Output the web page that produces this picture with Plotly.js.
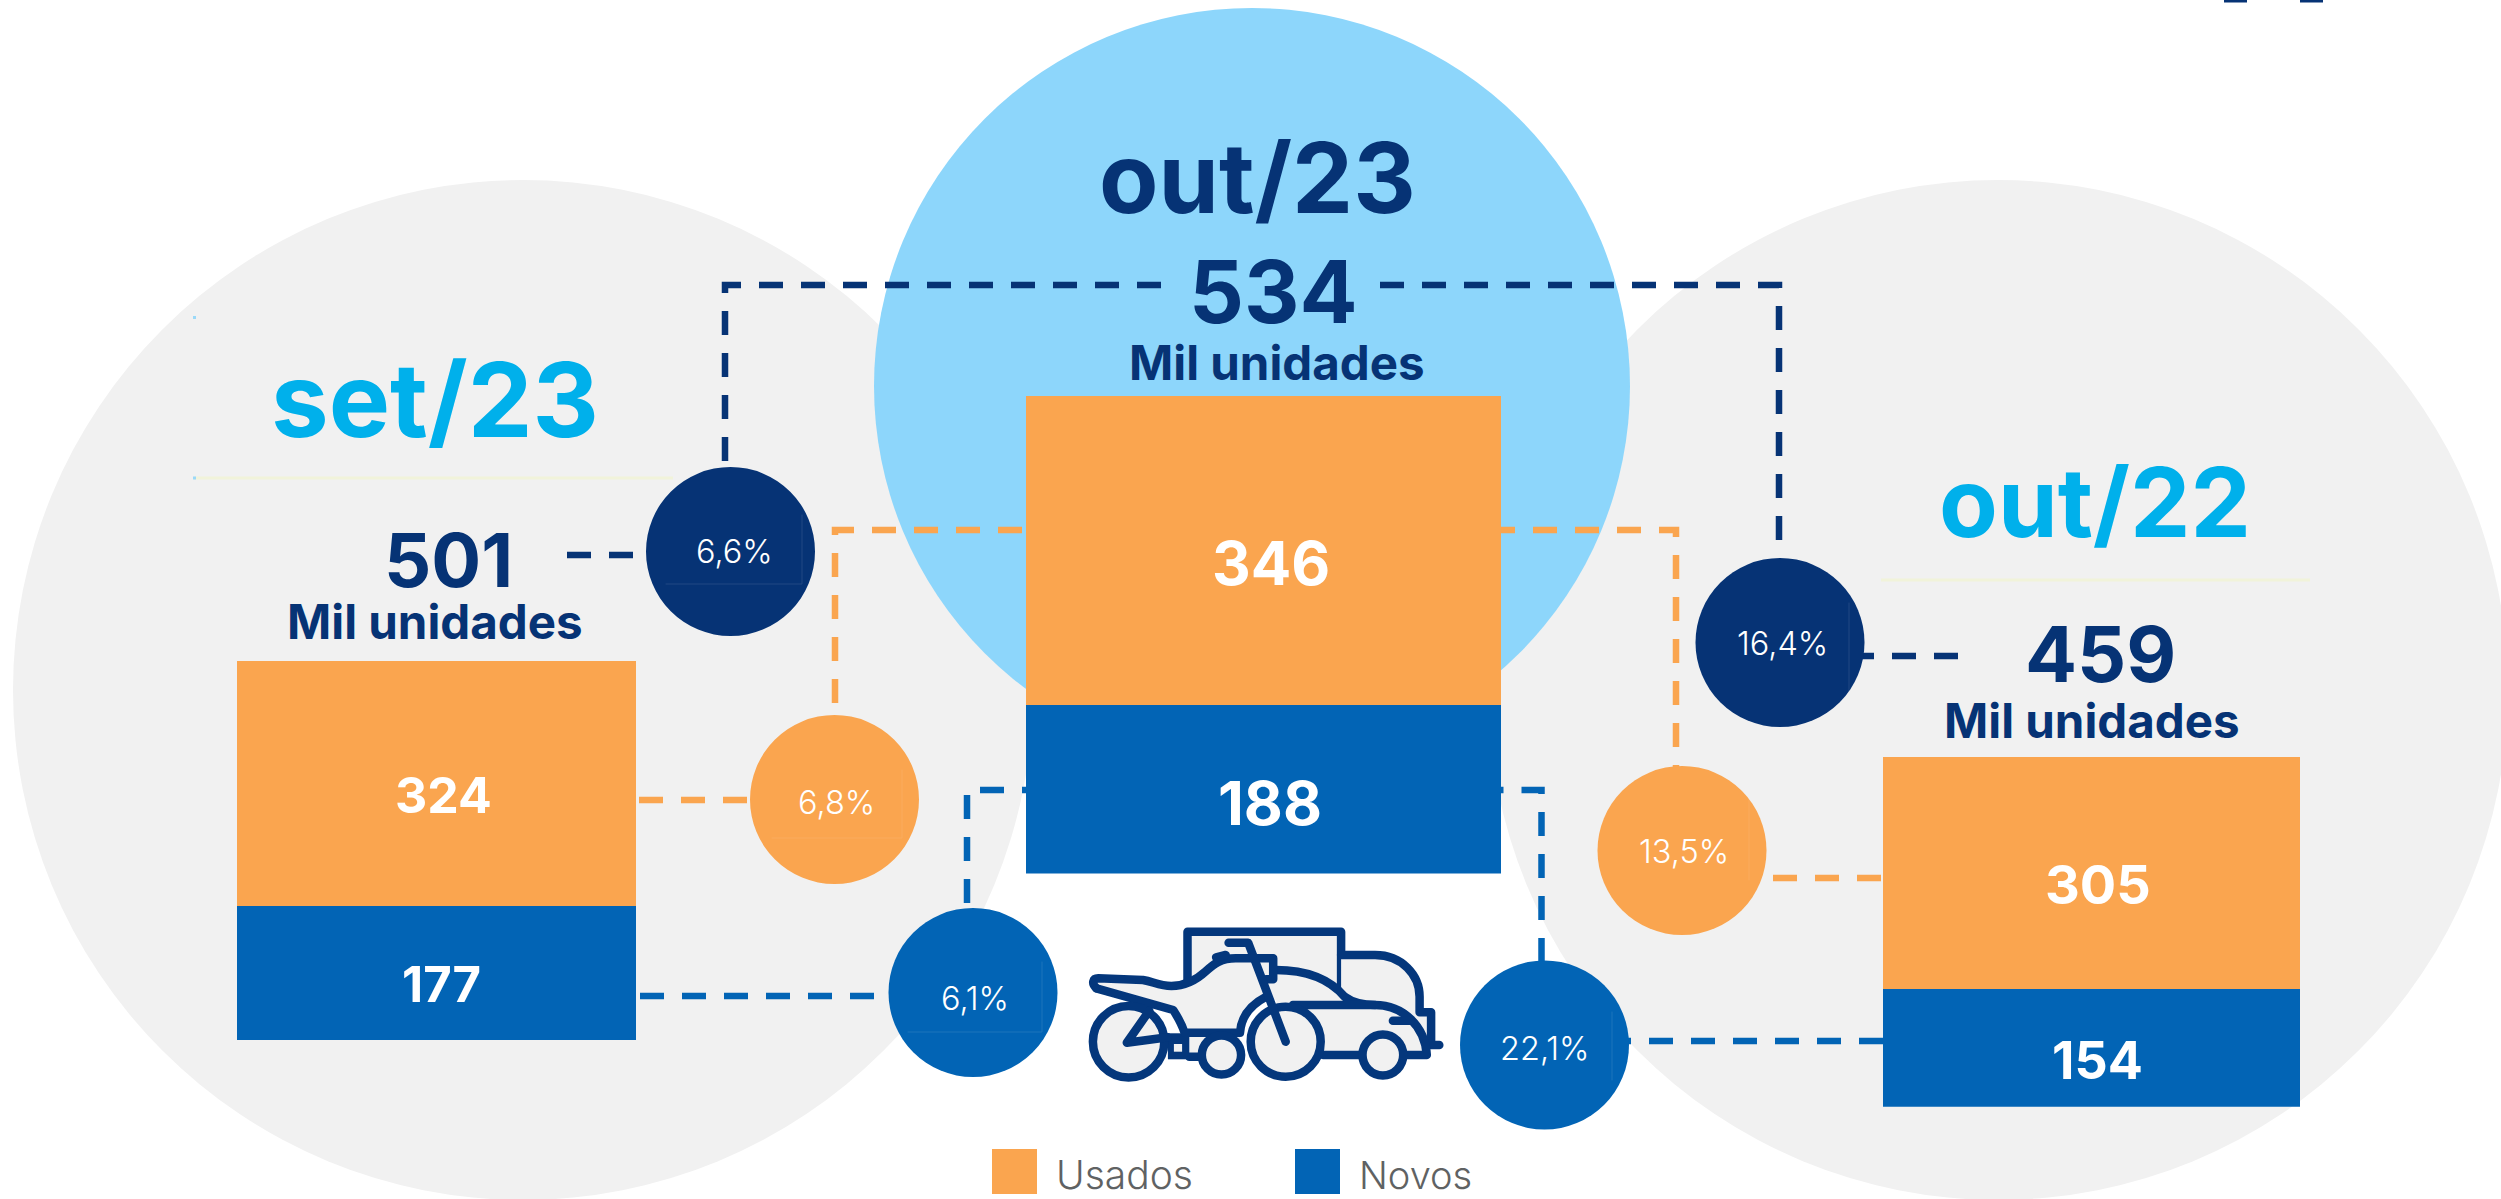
<!DOCTYPE html>
<html>
<head>
<meta charset="utf-8">
<script src="https://cdn.plot.ly/plotly-3.0.1.min.js"></script>
<style>
html,body{margin:0;padding:0;background:#fff;overflow:hidden}
#chart{width:2501px;height:1199px}
.shapelayer path:not([style*="dasharray"]){stroke-linejoin:round;stroke-linecap:round}
</style>
</head>
<body>
<div id="chart"></div>
<script>
const periods = ["set/23", "out/23", "out/22"];
const usados = [324, 346, 305];
const novos = [177, 188, 154];
const totais = [501, 534, 459];
const unidade = "Mil unidades";
const variacaoTotal = ["6,6%", "16,4%"];
const variacaoUsados = ["6,8%", "13,5%"];
const variacaoNovos = ["6,1%", "22,1%"];
const seriesNames = ["Usados", "Novos"];

const W = 2501, H = 1199;
const ORANGE = "#FAA54F", BLUE = "#0264B5", NAVY = "#063375", CYAN = "#00B0EB",
      ICON = "#04377C", GRAY = "#F1F1F1", SKY = "#8DD6FB", LEG = "#5F6263";

const px = x => x / W, py = y => 1 - y / H;
const P = s => s.replace(/(-?[\d.]+)[ ,](-?[\d.]+)/g, (m, a, b) => px(+a) + " " + py(+b));

const boxes = [[237, 636, 661, 1040], [1026, 1501, 395.5, 873.5], [1883, 2300, 757, 1106.7]];

const traces = [], layout = {
  width: W, height: H, margin: {l: 0, r: 0, t: 0, b: 0}, barmode: "stack", bargap: 0,
  paper_bgcolor: "#fff", plot_bgcolor: "rgba(0,0,0,0)", showlegend: false, hovermode: false,
  font: {family: "Inter, sans-serif"}, shapes: [], annotations: []
};
periods.forEach((p, i) => {
  const s = i ? String(i + 1) : "";
  const b = boxes[i];
  layout["xaxis" + s] = {domain: [px(b[0]), px(b[1])], visible: false, type: "category", range: [-0.5, 0.5], fixedrange: true, anchor: "y" + s};
  layout["yaxis" + s] = {domain: [py(b[3]), py(b[2])], visible: false, range: [0, totais[i]], fixedrange: true, anchor: "x" + s};
  traces.push({type: "bar", name: seriesNames[1], x: [p], y: [novos[i]], xaxis: "x" + s, yaxis: "y" + s, marker: {color: BLUE, line: {width: 0}}});
  traces.push({type: "bar", name: seriesNames[0], x: [p], y: [usados[i]], xaxis: "x" + s, yaxis: "y" + s, marker: {color: ORANGE, line: {width: 0}}});
});

const sh = layout.shapes;
function circle(cx, cy, r, fill, layer) {
  sh.push({type: "circle", xref: "paper", yref: "paper", x0: px(cx - r), x1: px(cx + r), y0: py(cy + r), y1: py(cy - r),
           fillcolor: fill, line: {width: 0}, layer: layer});
}
function rect(x0, y0, x1, y1, fill, layer) {
  sh.push({type: "rect", xref: "paper", yref: "paper", x0: px(x0), x1: px(x1), y0: py(y1), y1: py(y0),
           fillcolor: fill, line: {width: 0}, layer: layer || "below"});
}
function dashed(d, color) {
  sh.push({type: "path", xref: "paper", yref: "paper", path: P(d), line: {color: color, width: 6.5, dash: "24px,18px"}, layer: "below"});
}
function thin(d, color, w, op) {
  sh.push({type: "path", xref: "paper", yref: "paper", path: P(d), line: {color: color, width: w || 1}, opacity: op || 1, layer: "above"});
}
circle(523, 690, 510, GRAY, "below");
circle(1998, 690, 510, GRAY, "below");
circle(1252, 386, 378, SKY, "below");

rect(194, 476.5, 673, 479.5, "#F1F3DA");
rect(1881, 578.5, 2310, 581.5, "#F1F3DA");
rect(193, 316, 196, 319, "#9BD9F8");
rect(193, 476.5, 196, 479.5, "#9BD9F8");

dashed("M725 461 L725 285 L1164 285", NAVY);
dashed("M1779 540 L1779 285 L1380 285", NAVY);
dashed("M567 555 L640 555", NAVY);
dashed("M1958 656 L1850 656", NAVY);
dashed("M835 703 L835 530 L1026 530", ORANGE);
dashed("M1676 789 L1676 530 L1501 530", ORANGE);
dashed("M639 800 L750 800", ORANGE);
dashed("M1773 878 L1883 878", ORANGE);
dashed("M967 903 L967 790 L1026 790", BLUE);
dashed("M1541.5 962 L1541.5 790 L1501 790", BLUE);
dashed("M640 996 L875 996", BLUE);
dashed("M1883 1041 L1620 1041", BLUE);

circle(730.5, 551.5, 84.5, NAVY, "above");
circle(1780, 642.5, 84.5, NAVY, "above");
circle(834.5, 799.5, 84.5, ORANGE, "above");
circle(1682, 850.5, 84.5, ORANGE, "above");
circle(973, 992.5, 84.5, BLUE, "above");
circle(1544.5, 1045, 84.5, BLUE, "above");

rect(992, 1149, 1037, 1194, ORANGE);
rect(1295, 1149, 1340, 1194, BLUE);

rect(2224, 0, 2247, 2.5, NAVY);
rect(2300, 0, 2323, 2.5, NAVY);

const zx = x => +(1000 + x / 2.8).toFixed(1), zy = y => +(880 + y / 3).toFixed(1);
const Z = s => s.replace(/(-?[\d.]+)[ ,](-?[\d.]+)/g, (m, a, b) => zx(+a) + " " + zy(+b));
function icon(d) {
  sh.push({type: "path", xref: "paper", yref: "paper", path: P(Z(d)), line: {color: ICON, width: 8.5}, layer: "above"});
}
function fillOnly(d, fill) {
  sh.push({type: "path", xref: "paper", yref: "paper", path: P(Z(d)), fillcolor: fill || GRAY, line: {width: 0}, layer: "above"});
}
function wheel(cx, cy, rx) {
  const ry = rx * 3 / 2.8;
  sh.push({type: "circle", xref: "paper", yref: "paper", x0: px(zx(cx - rx)), x1: px(zx(cx + rx)), y0: py(zy(cy + ry)), y1: py(zy(cy - ry)),
           fillcolor: GRAY, line: {color: ICON, width: 8.5}, layer: "above"});
}
// truck cargo box
fillOnly("M525 155 L955 155 L955 360 L525 360 Z");
icon("M525 300 L525 155 L955 155 L955 340");
// truck cab
fillOnly("M955 225 L1050 225 C1125 225 1175 285 1175 350 L1175 400 L1207 400 L1207 525 L955 525 Z");
icon("M955 225 L1050 225 C1125 225 1175 285 1175 350 L1175 397 L1207 397 L1207 495 L1230 495");
// car
fillOnly("M770 270 C860 270 925 300 965 350 C990 370 1020 375 1050 375 C1130 375 1190 440 1195 525 L780 525 Z");
icon("M772 270 C860 270 925 300 965 350 C990 370 1020 375 1050 375 C1130 375 1190 440 1195 525 L1140 525");
icon("M820 375 L1050 375");
icon("M1100 422 L1150 422");
icon("M1005 525 L905 525");
// lower frame
fillOnly("M478 458 L672 458 L672 530 L478 530 Z");
icon("M530 530 L555 530");
fillOnly("M470 460 L530 460 L530 538 L470 538 Z", ICON);
fillOnly("M487 492 L510 492 L510 515 L487 515 Z");
// motorcycle body
fillOnly("M270 325 C255 310 260 295 275 295 L400 300 C430 305 445 318 480 318 C520 318 550 300 575 275 C600 250 620 235 660 235 L770 235 L770 298 L745 350 C700 375 675 410 672 458 L517 458 C510 435 500 415 485 390 Z");
icon("M270 325 C255 310 260 295 275 295 L400 300 C430 305 445 318 480 318 C520 318 550 300 575 275 C600 250 620 235 660 235 L765 235 L765 298 L745 298");
icon("M270 325 L485 390 C500 415 510 435 517 458 L672 458 C675 410 700 375 745 350");
icon("M605 232 L632 225");
// wheels and fork
wheel(360, 485, 100);
icon("M470 472 L355 488 L418 392");
wheel(620, 525, 55);
wheel(1072, 525, 57);
wheel(800, 485, 98);
icon("M640 188 L695 188 L800 485");

thin("M666 584 L802 584 L802 515", "#FFFFFF", 1, 0.1);
thin("M1849 603 L1849 700", "#FFFFFF", 1, 0.1);
thin("M772 838 L902 838 L902 770", "#FFFFFF", 1, 0.08);
thin("M1749 790 L1749 880", "#FFFFFF", 1, 0.08);
thin("M908 1032 L1042 1032 L1042 962", "#FFFFFF", 1, 0.1);
thin("M1612 1012 L1612 1080", "#FFFFFF", 1, 0.1);

const an = layout.annotations;
function label(text, x, y, size, color, weight) {
  an.push({text: text, x: px(x), y: py(y), xref: "paper", yref: "paper", xanchor: "center", yanchor: "middle",
           showarrow: false, font: {family: "Inter, sans-serif", size: size, color: color, weight: weight || 700}});
}
label(periods[0], 435, 400, 103, CYAN, 700);
label(periods[1], 1257, 178, 97, NAVY, 700);
label(periods[2], 2095, 502, 96, CYAN, 700);

label(String(totais[0]), 448, 560, 74, NAVY, 700);
label(String(totais[1]), 1273, 292, 86, NAVY, 700);
label(String(totais[2]), 2100, 654, 77, NAVY, 700);

label(unidade, 435, 621, 47.5, NAVY, 700);
label(unidade, 1277, 362, 47.5, NAVY, 700);
label(unidade, 2092, 720, 47.5, NAVY, 700);

label(String(usados[0]), 443, 795, 50, "#fff", 700);
label(String(novos[0]), 442, 984, 49, "#fff", 700);
label(String(usados[1]), 1271, 563, 60, "#fff", 700);
label(String(novos[1]), 1270, 803, 60, "#fff", 700);
label(String(usados[2]), 2098, 884, 54, "#fff", 700);
label(String(novos[2]), 2097, 1060, 52, "#fff", 700);

label(variacaoTotal[0], 734, 551, 32.5, "#fff", 300);
label(variacaoTotal[1], 1782, 643, 32.5, "#fff", 300);
label(variacaoUsados[0], 836, 802, 32.5, "#fff", 300);
label(variacaoUsados[1], 1683.5, 851, 32.5, "#fff", 300);
label(variacaoNovos[0], 975, 998, 32.5, "#fff", 300);
label(variacaoNovos[1], 1545, 1048, 32.5, "#fff", 300);

label(seriesNames[0], 1124, 1174.5, 39, LEG, 300);
label(seriesNames[1], 1415, 1174.5, 38, LEG, 300);

Plotly.newPlot("chart", traces, layout, {displayModeBar: false, staticPlot: true});
</script>
</body>
</html>
